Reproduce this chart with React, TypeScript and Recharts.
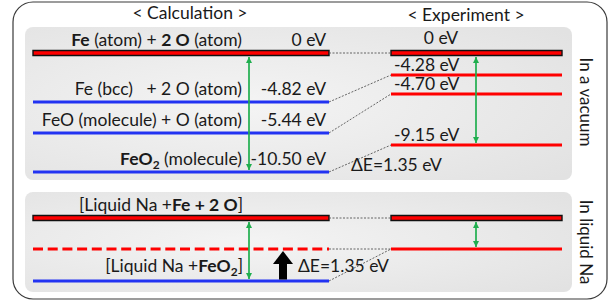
import { ComposedChart, ReferenceArea, ReferenceDot, ReferenceLine, XAxis, YAxis } from 'recharts'

// values
const columnTitles = ['< Calculation >', '< Experiment >']
const panelTitles = ['In a vacuum', 'In liquid Na']
const calcSpecies = ['**Fe** (atom) + **2 O** (atom)', 'Fe (bcc)   + 2 O (atom)', 'FeO (molecule) + O (atom)', '**FeO_2** (molecule)']
const calcEnergies = [0, -4.82, -5.44, -10.5]
const expEnergies = [0, -4.28, -4.7, -9.15]
const liquidSpecies = ['[Liquid Na +**Fe + 2 O**]', '[Liquid Na +**FeO_2**]']
const deltaE = 1.35

// schematic layout (diagram units = px of the 613x302 canvas)
const W = 613
const H = 302
const CALC = [33, 329]
const EXP = [391, 562]
const calcRows = [53, 102, 133, 172]
const expRows = [53, 75, 94, 145]
const liquidRows = [218, 249, 281]

const FONT = 'Lato, "Open Sans", sans-serif'
const FS = 17.5
const RED = '#ff0000'
const BLUE = '#2233f2'
const GREEN = '#1fae4e'
const LINK = '#555555'

const fmt = (e: number) => (e === 0 ? '0 eV' : `${e.toFixed(2)} eV`)

type TextProps = { x: number; y: number; text: string; anchor?: 'start' | 'middle' | 'end'; size?: number; rotate?: boolean }

function RichText({ x, y, text, anchor = 'start', size = FS, rotate = false }: TextProps) {
  const parts = text.split(/(\*\*[^*]+\*\*)/).filter(Boolean)
  const spans: JSX.Element[] = []
  let shift = 0
  parts.forEach((part, i) => {
    const bold = part.startsWith('**')
    const body = bold ? part.slice(2, -2) : part
    body.split(/(_\d)/).filter(Boolean).forEach((chunk, j) => {
      const sub = chunk.startsWith('_')
      const dy = sub ? 4 - shift : -shift
      shift = sub ? 4 : 0
      spans.push(
        <tspan key={`${i}-${j}`} dy={dy || undefined} fontWeight={bold ? 700 : 400} fontSize={sub ? size * 0.68 : size}>
          {sub ? chunk.slice(1) : chunk}
        </tspan>
      )
    })
  })
  return (
    <text
      x={x}
      y={y}
      textAnchor={anchor}
      fontFamily={FONT}
      fontSize={size}
      fill="#1a1a1a"
      style={{ whiteSpace: 'pre' }}
      dominantBaseline={rotate ? 'central' : undefined}
      transform={rotate ? `rotate(90 ${x} ${y})` : undefined}
    >
      {spans}
    </text>
  )
}

const label = (text: string, anchor: 'start' | 'middle' | 'end' = 'start', size = FS, rotate = false) =>
  (p: any) => <RichText x={p.cx} y={p.cy} text={text} anchor={anchor} size={size} rotate={rotate} />

const box = (fill: string, rx: number, stroke = 'none', sw = 0) =>
  (p: any) => <rect x={p.x} y={p.y} width={p.width} height={p.height} rx={rx} ry={rx} fill={fill} stroke={stroke} strokeWidth={sw} />

const arrow = (color: string, width: number, start: string | undefined, end: string) =>
  (p: any) => (
    <line x1={p.x1} y1={p.y1} x2={p.x2} y2={p.y2} stroke={color} strokeWidth={width} markerStart={start} markerEnd={end} />
  )

function Level({ x, y, kind }: { x: number[]; y: number; kind: 'frame' | 'red' | 'blue' | 'dash' }) {
  if (kind === 'frame') {
    return <ReferenceArea x1={x[0]} x2={x[1]} y1={y - 2.5} y2={y + 2.5} fill={RED} fillOpacity={1} stroke="#111" strokeWidth={1.4} />
  }
  return (
    <ReferenceLine
      segment={[{ x: x[0], y }, { x: x[1], y }]}
      stroke={kind === 'blue' ? BLUE : RED}
      strokeWidth={3}
      strokeDasharray={kind === 'dash' ? '10 4.7' : undefined}
    />
  )
}

export default function App() {
  const connect = (y1: number, y2: number, k: string) => (
    <ReferenceLine key={k} segment={[{ x: CALC[1], y: y1 }, { x: EXP[0], y: y2 }]} stroke={LINK} strokeWidth={0.9} strokeDasharray="2 1.5" />
  )

  return (
    <div style={{ position: 'absolute', left: 0, top: 0, width: W, height: H, background: '#fff' }}>
      <svg width={0} height={0} style={{ position: 'absolute' }}>
        <defs>
          <radialGradient id="panelFill" cx="40%" cy="50%" r="75%">
            <stop offset="0%" stopColor="#f4f4f4" />
            <stop offset="100%" stopColor="#e2e2e2" />
          </radialGradient>
          <marker id="greenHead" viewBox="0 0 10 10" refX={10} refY={5} markerWidth={6} markerHeight={6} markerUnits="userSpaceOnUse" orient="auto-start-reverse">
            <path d="M0,0 L10,5 L0,10 z" fill={GREEN} />
          </marker>
          <marker id="blackHead" viewBox="0 0 13 20" refX={0} refY={10} markerWidth={13} markerHeight={20} markerUnits="userSpaceOnUse" orient="auto">
            <path d="M0,0 L13,10 L0,20 z" fill="#000" />
          </marker>
        </defs>
      </svg>
      <ComposedChart width={W} height={H} margin={{ top: 0, right: 0, bottom: 0, left: 0 }}>
        <XAxis type="number" dataKey="x" domain={[0, W]} allowDataOverflow hide />
        <YAxis type="number" dataKey="y" domain={[0, H]} allowDataOverflow reversed hide />

        {/* frame and panels */}
        <ReferenceArea x1={13} x2={607} y1={2} y2={299} shape={box('#ffffff', 20, '#3a3a3a', 1.2)} />
        <ReferenceArea x1={25} x2={572} y1={27} y2={180} shape={box('url(#panelFill)', 8)} />
        <ReferenceArea x1={25} x2={572} y1={192} y2={292} shape={box('url(#panelFill)', 8)} />

        {/* vacuum levels */}
        {calcRows.map((y, i) => <Level key={`c${i}`} x={CALC} y={y} kind={i === 0 ? 'frame' : 'blue'} />)}
        {expRows.map((y, i) => <Level key={`e${i}`} x={EXP} y={y} kind={i === 0 ? 'frame' : 'red'} />)}
        {calcRows.map((y, i) => connect(y, expRows[i], `l${i}`))}

        {/* liquid Na levels */}
        <Level x={CALC} y={liquidRows[0]} kind="frame" />
        <Level x={CALC} y={liquidRows[1]} kind="dash" />
        <Level x={CALC} y={liquidRows[2]} kind="blue" />
        <Level x={EXP} y={liquidRows[0]} kind="frame" />
        <Level x={EXP} y={liquidRows[1]} kind="red" />
        {connect(liquidRows[0], liquidRows[0], 'm0')}
        {connect(liquidRows[1], liquidRows[1], 'm1')}
        {connect(liquidRows[2], liquidRows[1], 'm2')}

        {/* arrows */}
        <ReferenceLine segment={[{ x: 249, y: calcRows[0] + 4 }, { x: 249, y: calcRows[3] - 2 }]} shape={arrow(GREEN, 1.7, 'url(#greenHead)', 'url(#greenHead)')} />
        <ReferenceLine segment={[{ x: 476, y: expRows[0] + 4 }, { x: 476, y: expRows[3] - 2 }]} shape={arrow(GREEN, 1.7, 'url(#greenHead)', 'url(#greenHead)')} />
        <ReferenceLine segment={[{ x: 249, y: liquidRows[0] + 4 }, { x: 249, y: liquidRows[2] - 2 }]} shape={arrow(GREEN, 1.7, 'url(#greenHead)', 'url(#greenHead)')} />
        <ReferenceLine segment={[{ x: 476, y: liquidRows[0] + 4 }, { x: 476, y: liquidRows[1] - 2 }]} shape={arrow(GREEN, 1.7, 'url(#greenHead)', 'url(#greenHead)')} />
        <ReferenceLine segment={[{ x: 283, y: liquidRows[2] - 1.5 }, { x: 283, y: liquidRows[1] + 15 }]} shape={arrow('#000', 8, undefined, 'url(#blackHead)')} />

        {/* titles */}
        <ReferenceDot x={190} y={18.5} r={0} shape={label(columnTitles[0], 'middle')} />
        <ReferenceDot x={466} y={20.5} r={0} shape={label(columnTitles[1], 'middle')} />
        <ReferenceDot x={587} y={102} r={0} shape={label(panelTitles[0], 'middle', 17, true)} />
        <ReferenceDot x={587} y={242} r={0} shape={label(panelTitles[1], 'middle', 17, true)} />

        {/* vacuum labels */}
        {calcRows.map((y, i) => (
          <ReferenceDot key={`cs${i}`} x={242} y={y - 7} r={0} shape={label(calcSpecies[i], 'end')} />
        ))}
        {calcRows.map((y, i) => (
          <ReferenceDot key={`ce${i}`} x={326} y={y - 7} r={0} shape={label(fmt(calcEnergies[i]), 'end')} />
        ))}
        {expRows.map((y, i) => (
          <ReferenceDot
            key={`ee${i}`}
            x={i === 0 ? 441 : 394}
            y={i === 0 ? y - 9 : y - 4}
            r={0}
            shape={label(fmt(expEnergies[i]), i === 0 ? 'middle' : 'start')}
          />
        ))}
        <ReferenceDot x={351} y={171} r={0} shape={label(`ΔE=${deltaE.toFixed(2)} eV`)} />

        {/* liquid labels */}
        <ReferenceDot x={243} y={liquidRows[0] - 7.5} r={0} shape={label(liquidSpecies[0], 'end')} />
        <ReferenceDot x={243} y={liquidRows[2] - 9} r={0} shape={label(liquidSpecies[1], 'end')} />
        <ReferenceDot x={298} y={liquidRows[2] - 9} r={0} shape={label(`ΔE=${deltaE.toFixed(2)} eV`)} />
      </ComposedChart>
    </div>
  )
}
